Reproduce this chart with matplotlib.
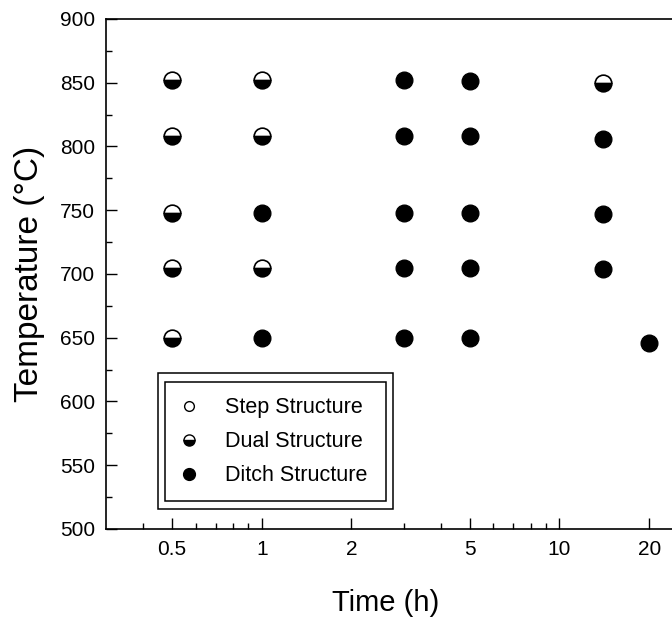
import matplotlib
matplotlib.use("Agg")
from matplotlib import pyplot as plt
from matplotlib.lines import Line2D
from matplotlib.patches import Rectangle
from matplotlib.ticker import FixedLocator, MultipleLocator, NullFormatter

plt.rcParams["font.family"] = ["Liberation Sans", "DejaVu Sans"]

# anneal time (h) and temperature (C) for each observed structure
step_time = []
step_temp = []

dual_time = [0.5, 1, 14, 0.5, 1, 0.5, 0.5, 1, 0.5]
dual_temp = [852, 852, 850, 808, 808, 748, 705, 705, 650]

ditch_time = [3, 5, 3, 5, 14, 1, 3, 5, 14, 3, 5, 14, 1, 3, 5, 20]
ditch_temp = [852, 851, 808, 808, 806, 748, 748, 748, 747, 705, 705, 704, 650, 650, 650, 646]

x_major = [0.5, 1, 2, 5, 10, 20]
x_minor = [0.4, 0.6, 0.7, 0.8, 0.9, 3, 4, 6, 7, 8, 9]
x_labels = ["0.5", "1", "2", "5", "10", "20"]

labels = ["Step Structure", "Dual Structure", "Ditch Structure"]

fig = plt.figure(figsize=(6.72, 6.29), dpi=100)
ax = fig.add_axes([106 / 672, 100 / 629, 572 / 672, 510 / 629])

ms = 12
ax.plot(step_time, step_temp, "o", ls="none", ms=ms, mfc="white", mec="black", mew=1.2)
ax.plot(dual_time, dual_temp, "o", ls="none", ms=ms, fillstyle="bottom",
        mfc="black", mfcalt="white", mec="black", mew=1.2)
ax.plot(ditch_time, ditch_temp, "o", ls="none", ms=ms, mfc="black", mec="black")

ax.set_xscale("log")
ax.set_xlim(0.3, 25)
ax.set_ylim(500, 900)

ax.xaxis.set_major_locator(FixedLocator(x_major))
ax.xaxis.set_minor_locator(FixedLocator(x_minor))
ax.set_xticklabels(x_labels)
ax.xaxis.set_minor_formatter(NullFormatter())
ax.yaxis.set_major_locator(MultipleLocator(50))
ax.yaxis.set_minor_locator(MultipleLocator(25))

ax.tick_params(which="both", direction="in", width=1, labelsize=15)
ax.tick_params(which="major", length=8)
ax.tick_params(which="minor", length=4)
ax.tick_params(axis="y", pad=8)
ax.tick_params(axis="x", pad=8)

ax.spines["right"].set_visible(False)
for s in ["left", "bottom", "top"]:
    ax.spines[s].set_linewidth(1.2)

ax.set_xlabel("Time (h)", fontsize=21)
ax.set_ylabel("Temperature (°C)", fontsize=24)
ax.xaxis.set_label_coords(0.488, -0.118)
ax.yaxis.set_label_coords(-0.107, 0.5)

# legend with a double frame
inner = (0.103, 0.055, 0.387, 0.233)
outer = (0.091, 0.040, 0.411, 0.265)
for x0, y0, w, h in (inner, outer):
    ax.add_patch(Rectangle((x0, y0), w, h, transform=ax.transAxes, fill=False,
                           lw=1.1, ec="black", zorder=3))

handles = [
    Line2D([], [], marker="o", ls="none", ms=7, mfc="white", mec="black", mew=1),
    Line2D([], [], marker="o", ls="none", ms=8, fillstyle="bottom", mfc="black",
           mfcalt="white", mec="black", mew=1),
    Line2D([], [], marker="o", ls="none", ms=8.5, mfc="black", mec="black"),
]
ax.legend(handles, labels, loc="upper left", bbox_to_anchor=(0.11, 0.279),
          bbox_transform=ax.transAxes, frameon=False, fontsize=15.5, borderpad=0,
          handlelength=0.9, handletextpad=1.2, labelspacing=0.6)

fig.savefig("out.png", dpi=100)
